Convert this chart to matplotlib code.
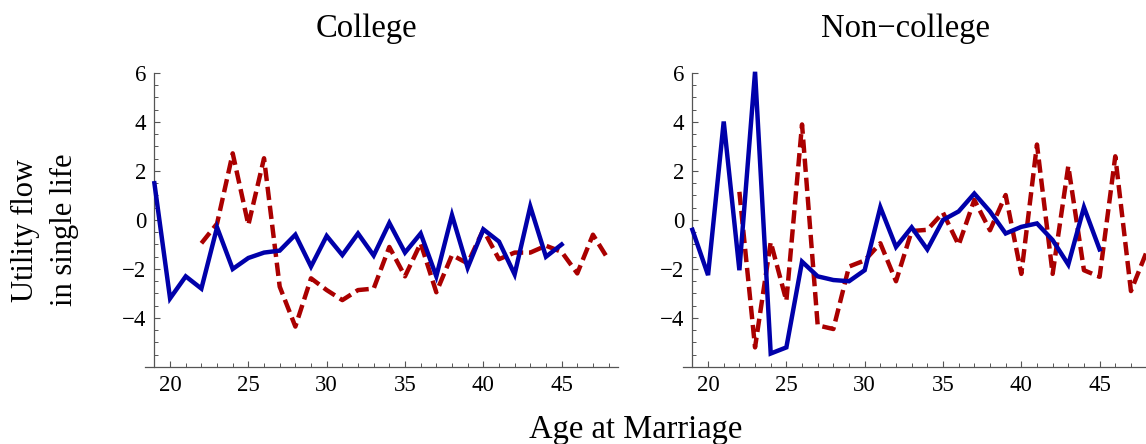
import numpy as np
import matplotlib.pyplot as plt
from matplotlib.ticker import MultipleLocator

plt.rcParams['font.family'] = ['Liberation Serif', 'DejaVu Serif']

# Utility flow in single life by age at marriage
ages_solid = np.arange(19, 46)
ages_dashed = np.arange(22, 49)

college_solid = [1.5, -3.2, -2.3, -2.8, -0.3, -2.0, -1.55, -1.33, -1.25, -0.6,
                 -1.9, -0.65, -1.43, -0.55, -1.45, -0.12, -1.33, -0.55, -2.3, 0.2,
                 -1.95, -0.38, -0.88, -2.22, 0.55, -1.5, -1.0]
college_dashed = [-0.95, -0.15, 2.72, -0.2, 2.52, -2.72, -4.35, -2.38, -2.86, -3.27,
                  -2.86, -2.8, -1.1, -2.3, -0.95, -2.95, -1.43, -1.77, -0.4, -1.6,
                  -1.33, -1.33, -1.05, -1.3, -2.18, -0.6, -1.63]

noncollege_solid = [-0.4, -2.25, 4.02, -2.05, 6.05, -5.45, -5.2, -1.7, -2.3, -2.45,
                    -2.5, -2.05, 0.52, -1.1, -0.3, -1.2, 0.0, 0.35, 1.08, 0.35,
                    -0.55, -0.28, -0.14, -0.82, -1.82, 0.52, -1.2]
noncollege_dashed = [1.15, -5.2, -0.9, -3.3, 3.9, -4.3, -4.45, -1.9, -1.65, -0.95,
                     -2.5, -0.45, -0.4, 0.3, -1.02, 0.82, -0.42, 1.02, -2.2, 3.08,
                     -2.2, 2.2, -2.05, -2.32, 2.6, -2.9, -1.3]

panels = [('College', college_solid, college_dashed),
          ('Non\u2212college', noncollege_solid, noncollege_dashed)]

blue = '#0000aa'
red = '#aa0000'
axis_gray = '#555555'

W, H = 1146, 444
fig = plt.figure(figsize=(W / 100, H / 100), dpi=100)

# axes boxes in pixels: left, right, top, bottom
boxes = [(145, 618, 73, 367), (683, 1156, 73, 367)]
title_x = [366, 906]

for (left, right, top, bottom), (name, solid, dashed), tx in zip(boxes, panels, title_x):
    ax = fig.add_axes([left / W, 1 - bottom / H, (right - left) / W, (bottom - top) / H])
    ax.plot(ages_solid, solid, color=blue, lw=3.2, solid_joinstyle='miter',
            clip_on=False, zorder=3)
    ax.plot(ages_dashed, dashed, color=red, lw=3.2, dashes=(3.0, 1.3),
            dash_capstyle='butt', clip_on=False, zorder=2)

    ax.set_xlim(18.4, 48.6)
    ax.set_ylim(-6, 6)
    ax.spines['top'].set_visible(False)
    ax.spines['right'].set_visible(False)
    ax.spines['left'].set_position(('data', 19))
    for s in ('left', 'bottom'):
        ax.spines[s].set_color(axis_gray)
        ax.spines[s].set_linewidth(0.9)

    ax.set_xticks([20, 25, 30, 35, 40, 45])
    ax.set_yticks([-4, -2, 0, 2, 4, 6])
    ax.xaxis.set_minor_locator(MultipleLocator(1))
    ax.yaxis.set_minor_locator(MultipleLocator(0.5))
    ax.tick_params(which='major', direction='in', length=4.5, width=0.8,
                   color=axis_gray, labelsize=16.5, pad=6)
    ax.tick_params(which='minor', direction='in', length=2.8, width=0.7,
                   color=axis_gray)
    ax.patch.set_visible(False)

    fig.text(tx / W, 1 - 37 / H, name, ha='center', va='baseline', fontsize=23.5)

fig.text(45 / W, 1 - 230 / H, 'Utility flow\nin single life', rotation=90,
         ha='center', va='center', multialignment='center', fontsize=22,
         linespacing=1.45)
fig.text(636 / W, 1 - 438 / H, 'Age at Marriage', ha='center', va='baseline',
         fontsize=23.5)

fig.savefig('out.png', dpi=100)
